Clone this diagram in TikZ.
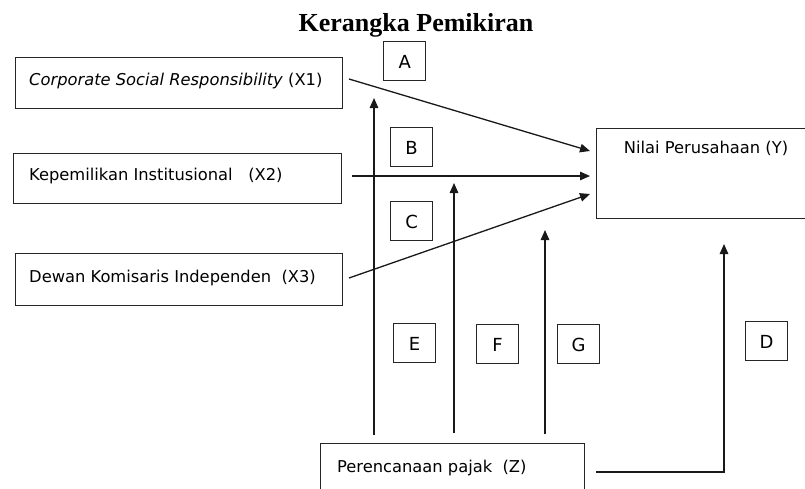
\documentclass[tikz,border=0pt]{standalone}
\usepackage{fontspec}
\setmainfont{Liberation Serif}
\newfontfamily\boxfont{DejaVu Sans}
\usetikzlibrary{arrows.meta,calc}
\tikzset{
  bigbox/.style={draw=black!85, line width=1.3pt, rectangle, anchor=north west, inner sep=0pt},
  letterbox/.style={draw=black!85, line width=1.3pt, rectangle, anchor=north west, inner sep=0pt, minimum width=42pt, minimum height=39pt},
  lettertxt/.style={font=\boxfont\fontsize{18}{21}\selectfont, inner sep=0pt},
  boxtxt/.style={font=\boxfont\fontsize{16.3}{19}\selectfont, anchor=base west, inner sep=0pt},
  conn/.style={draw=black!90, line width=1.3pt, -{Triangle[length=10pt,width=8.5pt]}},
  plain/.style={draw=black!90, line width=1.3pt}
}
\begin{document}
\begin{tikzpicture}[x=1pt,y=-1pt]
\clip (0,0) rectangle (805,488);
\fill[white] (0,0) rectangle (805,488);
% title
\node[font=\bfseries\fontsize{26}{30}\selectfont, anchor=base, inner sep=0pt] (title) at (416,31) {Kerangka Pemikiran};
% big boxes
\node[bigbox, minimum width=327pt, minimum height=51pt] (x1) at (15,57) {};
\node[bigbox, minimum width=328pt, minimum height=50pt] (x2) at (13,153) {};
\node[bigbox, minimum width=327pt, minimum height=52pt] (x3) at (15,253) {};
\node[bigbox, minimum width=220pt, minimum height=90pt] (y) at (596,128) {};
\node[bigbox, minimum width=264pt, minimum height=60pt] (z) at (320,443) {};
% box texts
\node[boxtxt] (t1) at (29,85) {\textit{Corporate Social Responsibility} (X1)};
\node[boxtxt] (t2) at (29,180) {Kepemilikan Institusional\ \ \ (X2)};
\node[boxtxt] (t3) at (29,282) {Dewan Komisaris Independen\ \ (X3)};
\node[boxtxt, anchor=base] (ty) at (706,153) {Nilai Perusahaan (Y)};
\node[boxtxt] (tz) at (337,472) {Perencanaan pajak\ \ (Z)};
% letter boxes
\node[letterbox] (bA) at (383,41) {};
\node[lettertxt] at ($(bA.center)+(0,1)$) {A};
\node[letterbox] (bB) at (390,127) {};
\node[lettertxt] at ($(bB.center)+(0,1)$) {B};
\node[letterbox] (bC) at (390,201) {};
\node[lettertxt] at ($(bC.center)+(0,1)$) {C};
\node[letterbox] (bE) at (393,323) {};
\node[lettertxt] at ($(bE.center)+(0,1)$) {E};
\node[letterbox] (bF) at (476,324) {};
\node[lettertxt] at ($(bF.center)+(0,1)$) {F};
\node[letterbox] (bG) at (557,324) {};
\node[lettertxt] at ($(bG.center)+(0,1)$) {G};
\node[letterbox] (bD) at (745,321) {};
\node[lettertxt] at ($(bD.center)+(0,1)$) {D};
% connector coordinates
\coordinate (s1) at (349,79);
\coordinate (e1) at (590,151);
\coordinate (s2) at (352,176);
\coordinate (e2) at (590,176);
\coordinate (s3) at (349,278);
\coordinate (e3) at (590,194);
\coordinate (sE) at (374,435);
\coordinate (eE) at (374,98);
\coordinate (sF) at (454,433);
\coordinate (eF) at (454,183);
\coordinate (sG) at (545,434);
\coordinate (eG) at (545,230);
\coordinate (sD) at (596,472);
\coordinate (cD) at (724,472);
\coordinate (eD) at (724,244);
% connectors
\draw[conn] (s1) -- (e1);
\draw[conn] (s2) -- (e2);
\draw[conn] (s3) -- (e3);
\draw[conn] (sE) -- (eE);
\draw[conn] (sF) -- (eF);
\draw[conn] (sG) -- (eG);
\draw[conn] (sD) -- (cD) -- (eD);
\end{tikzpicture}
\end{document}
